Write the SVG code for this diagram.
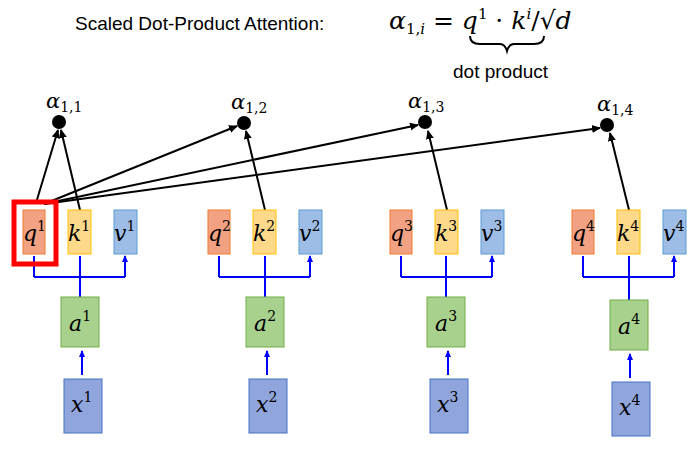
<svg xmlns="http://www.w3.org/2000/svg" width="700" height="454" viewBox="0 0 700 454">
<defs>
<marker id="ab" markerWidth="8" markerHeight="8" refX="6" refY="4" orient="auto" markerUnits="userSpaceOnUse"><path d="M0,1 L7,4 L0,7 Z" fill="#0000ff"/></marker>
<marker id="ak" markerWidth="10" markerHeight="10" refX="8" refY="5" orient="auto" markerUnits="userSpaceOnUse"><path d="M0,1 L9,5 L0,9 Z" fill="#000"/></marker>
</defs>
<style>
.s{font-family:"Liberation Sans",Arial,sans-serif;fill:#000}
.m{font-family:"DejaVu Serif","Liberation Serif",serif;font-style:italic;fill:#000}
.q{fill:#f2a183;stroke:#ed7d31;stroke-width:1}
.k{fill:#ffd98a;stroke:#ffc000;stroke-width:1}
.v{fill:#9dbde6;stroke:#5b9bd5;stroke-width:1}
.a{fill:#a9d18e;stroke:#70ad47;stroke-width:1}
.x{fill:#8fa5dc;stroke:#4472c4;stroke-width:1}
.bl{stroke:#0000ff;stroke-width:2;fill:none}
.bk{stroke:#000;stroke-width:2;fill:none}
.lbl{font-size:22px}
</style>
<g id="title">
<text class="s" x="75" y="30" font-size="19">Scaled Dot-Product Attention:</text>
<text class="m" x="389" y="29" font-size="25">α<tspan font-size="15" dy="5" font-style="normal">1,</tspan><tspan font-size="15">i</tspan><tspan dy="-5" font-style="normal"> = </tspan>q<tspan font-size="15" dy="-10" font-style="normal">1</tspan><tspan dy="10" font-style="normal"> · </tspan>k<tspan font-size="15" dy="-10">i</tspan><tspan dy="10" font-style="normal">/√</tspan>d</text>
<path d="M470,36 Q470,44 480,44 L500,44 Q505,44 507,51 Q509,44 514,44 L534,44 Q544,44 544,36" class="bk" stroke-width="1.8"/>
<text class="s" x="453" y="78" font-size="19">dot product</text>
</g>
<g id="connectors">
<path class="bk" d="M36,203 L58,130" marker-end="url(#ak)"/>
<path class="bk" d="M80,210 L61,130" marker-end="url(#ak)"/>
<path class="bk" d="M44,204 L237,126" marker-end="url(#ak)"/>
<path class="bk" d="M44,204 L418,125" marker-end="url(#ak)"/>
<path class="bk" d="M44,204 L600,128" marker-end="url(#ak)"/>
<path class="bk" d="M265,210 L246,131" marker-end="url(#ak)"/>
<path class="bk" d="M447,210 L428,131" marker-end="url(#ak)"/>
<path class="bk" d="M629,210 L610,133" marker-end="url(#ak)"/>
<g id="blue">
<path class="bl" d="M34,277 H125 M80,297 V277 M34,277 V256 M80,277 V256 M125,277 V256" />
<path class="bl" d="M219,277 H310 M265,297 V277 M219,277 V256 M265,277 V256 M310,277 V256" />
<path class="bl" d="M401,277 H492 M446,297 V277 M401,277 V256 M446,277 V256 M492,277 V256" />
<path class="bl" d="M583,277 H674 M629,300 V277 M583,277 V256 M629,277 V256 M674,277 V256" />
<path class="bl" d="M34,262 V256 M80,262 V256 M125,262 V256" marker-end="url(#ab)"/>
<path class="bl" d="M219,262 V256 M265,262 V256 M310,262 V256" marker-end="url(#ab)"/>
<path class="bl" d="M401,262 V256 M446,262 V256 M492,262 V256" marker-end="url(#ab)"/>
<path class="bl" d="M583,262 V256 M629,262 V256 M674,262 V256" marker-end="url(#ab)"/>
<path class="bl" d="M82,375 V351" marker-end="url(#ab)"/>
<path class="bl" d="M267,375 V351" marker-end="url(#ab)"/>
<path class="bl" d="M448,375 V351" marker-end="url(#ab)"/>
<path class="bl" d="M630,378 V354" marker-end="url(#ab)"/>
</g>
</g>
<g id="alphas">
<circle cx="59" cy="122" r="7"/><text class="m" x="46" y="108" font-size="21">α<tspan font-size="14" font-style="normal" dy="4">1,1</tspan></text>
<circle cx="244" cy="123" r="7"/><text class="m" x="231" y="109" font-size="21">α<tspan font-size="14" font-style="normal" dy="4">1,2</tspan></text>
<circle cx="425" cy="122" r="7"/><text class="m" x="408" y="108" font-size="21">α<tspan font-size="14" font-style="normal" dy="4">1,3</tspan></text>
<circle cx="607" cy="125" r="7"/><text class="m" x="597" y="111" font-size="21">α<tspan font-size="14" font-style="normal" dy="4">1,4</tspan></text>
</g>
<rect x="14" y="202" width="42" height="62" fill="none" stroke="#ff0000" stroke-width="5"/>
<g id="n1">
<rect class="q" x="23" y="210" width="22" height="44"/><text class="m lbl" x="23" y="241">q<tspan font-size="14" font-style="normal" dy="-10">1</tspan></text>
<rect class="k" x="68" y="210" width="23" height="44"/><text class="m lbl" x="68" y="241">k<tspan font-size="14" font-style="normal" dy="-10">1</tspan></text>
<rect class="v" x="114" y="210" width="23" height="44"/><text class="m lbl" x="114" y="241">v<tspan font-size="14" font-style="normal" dy="-10">1</tspan></text>
<rect class="a" x="61" y="297" width="38" height="50"/><text class="m lbl" x="69" y="331">a<tspan font-size="14" font-style="normal" dy="-10">1</tspan></text>
<rect class="x" x="64" y="379" width="38" height="54"/><text class="m lbl" x="71" y="412">x<tspan font-size="14" font-style="normal" dy="-10">1</tspan></text>
</g>
<g id="n2">
<rect class="q" x="208" y="210" width="22" height="44"/><text class="m lbl" x="208" y="241">q<tspan font-size="14" font-style="normal" dy="-10">2</tspan></text>
<rect class="k" x="253" y="210" width="23" height="44"/><text class="m lbl" x="253" y="241">k<tspan font-size="14" font-style="normal" dy="-10">2</tspan></text>
<rect class="v" x="299" y="210" width="23" height="44"/><text class="m lbl" x="299" y="241">v<tspan font-size="14" font-style="normal" dy="-10">2</tspan></text>
<rect class="a" x="246" y="297" width="38" height="50"/><text class="m lbl" x="254" y="331">a<tspan font-size="14" font-style="normal" dy="-10">2</tspan></text>
<rect class="x" x="249" y="379" width="38" height="54"/><text class="m lbl" x="256" y="412">x<tspan font-size="14" font-style="normal" dy="-10">2</tspan></text>
</g>
<g id="n3">
<rect class="q" x="390" y="210" width="22" height="44"/><text class="m lbl" x="390" y="241">q<tspan font-size="14" font-style="normal" dy="-10">3</tspan></text>
<rect class="k" x="435" y="210" width="23" height="44"/><text class="m lbl" x="435" y="241">k<tspan font-size="14" font-style="normal" dy="-10">3</tspan></text>
<rect class="v" x="481" y="210" width="23" height="44"/><text class="m lbl" x="481" y="241">v<tspan font-size="14" font-style="normal" dy="-10">3</tspan></text>
<rect class="a" x="427" y="297" width="38" height="50"/><text class="m lbl" x="435" y="331">a<tspan font-size="14" font-style="normal" dy="-10">3</tspan></text>
<rect class="x" x="430" y="379" width="38" height="54"/><text class="m lbl" x="437" y="412">x<tspan font-size="14" font-style="normal" dy="-10">3</tspan></text>
</g>
<g id="n4">
<rect class="q" x="572" y="210" width="22" height="44"/><text class="m lbl" x="572" y="241">q<tspan font-size="14" font-style="normal" dy="-10">4</tspan></text>
<rect class="k" x="617" y="210" width="23" height="44"/><text class="m lbl" x="617" y="241">k<tspan font-size="14" font-style="normal" dy="-10">4</tspan></text>
<rect class="v" x="663" y="210" width="23" height="44"/><text class="m lbl" x="663" y="241">v<tspan font-size="14" font-style="normal" dy="-10">4</tspan></text>
<rect class="a" x="610" y="300" width="38" height="50"/><text class="m lbl" x="618" y="334">a<tspan font-size="14" font-style="normal" dy="-10">4</tspan></text>
<rect class="x" x="612" y="382" width="38" height="54"/><text class="m lbl" x="619" y="415">x<tspan font-size="14" font-style="normal" dy="-10">4</tspan></text>
</g>
</svg>
